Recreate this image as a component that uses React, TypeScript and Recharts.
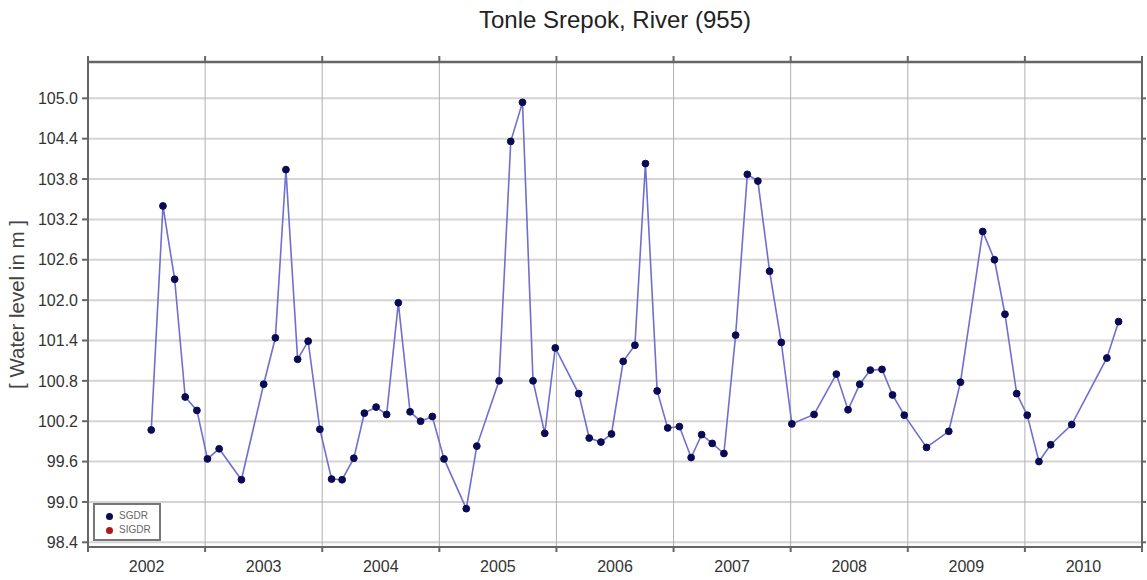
import { LineChart, Line, XAxis, YAxis, CartesianGrid, Label } from 'recharts'

const years = [2002, 2003, 2004, 2005, 2006, 2007, 2008, 2009, 2010, 2011]
const levelTicks = [98.4, 99.0, 99.6, 100.2, 100.8, 101.4, 102.0, 102.6, 103.2, 103.8, 104.4, 105.0]

const times = [
  2002.54, 2002.64, 2002.74, 2002.83, 2002.93,
  2003.02, 2003.12, 2003.31, 2003.5, 2003.6, 2003.69, 2003.79, 2003.88, 2003.98,
  2004.08, 2004.17, 2004.27, 2004.36, 2004.46, 2004.55, 2004.65, 2004.75, 2004.84, 2004.94,
  2005.04, 2005.23, 2005.32, 2005.51, 2005.61, 2005.71, 2005.8, 2005.9, 2005.99,
  2006.19, 2006.28, 2006.38, 2006.47, 2006.57, 2006.67, 2006.76, 2006.86, 2006.95,
  2007.05, 2007.15, 2007.24, 2007.33, 2007.43, 2007.53, 2007.63, 2007.72, 2007.82, 2007.92,
  2008.01, 2008.2, 2008.39, 2008.49, 2008.59, 2008.68, 2008.78, 2008.87, 2008.97,
  2009.16, 2009.35, 2009.45, 2009.64, 2009.74, 2009.83, 2009.93,
  2010.02, 2010.12, 2010.22, 2010.4, 2010.7, 2010.8,
]

const levels = [
  100.07, 103.4, 102.31, 100.56, 100.36,
  99.64, 99.79, 99.33, 100.75, 101.44, 103.94, 101.12, 101.39, 100.08,
  99.34, 99.33, 99.65, 100.32, 100.41, 100.3, 101.96, 100.34, 100.2, 100.27,
  99.64, 98.9, 99.83, 100.8, 104.36, 104.94, 100.8, 100.02, 101.29,
  100.61, 99.95, 99.89, 100.01, 101.09, 101.33, 104.03, 100.65, 100.1,
  100.12, 99.66, 100.0, 99.87, 99.72, 101.48, 103.87, 103.77, 102.43, 101.37,
  100.16, 100.3, 100.9, 100.37, 100.75, 100.96, 100.97, 100.59, 100.29,
  99.81, 100.05, 100.78, 103.02, 102.6, 101.79, 100.61,
  100.29, 99.6, 99.85, 100.15, 101.14, 101.68,
]

const legendNames = ['SGDR', 'SIGDR']
const legendColors = ['#0b0b55', '#b01818']

const data = times.map((t, i) => ({ t, level: levels[i] }))

const FONT = '"Liberation Sans", Arial, Helvetica, sans-serif'
const X_DOMAIN: [number, number] = [2002, 2011]
const Y_DOMAIN: [number, number] = [98.33, 105.54]
const PLOT_LEFT = 88
const PLOT_RIGHT = 1142
// year labels sit in the middle of each year band
const HALF_YEAR = (PLOT_RIGHT - PLOT_LEFT) / (X_DOMAIN[1] - X_DOMAIN[0]) / 2

const YearTick = ({ x, y, payload }: any) => {
  if (payload.value >= X_DOMAIN[1]) return null
  return (
    <text x={x + HALF_YEAR} y={y} dy="0.71em" textAnchor="middle" fill="#333" fontSize={16} fontFamily={FONT}>
      {payload.value}
    </text>
  )
}

const LegendBox = () => (
  <div
    style={{
      position: 'absolute',
      left: 93,
      top: 503,
      width: 68,
      height: 38,
      boxSizing: 'border-box',
      border: '2px solid #777',
      background: '#fff',
      padding: '4px 0 0 11px',
      fontFamily: FONT,
      fontSize: 10,
      color: '#666',
      lineHeight: '14px',
    }}
  >
    {legendNames.map((name, i) => (
      <div key={name} style={{ display: 'flex', alignItems: 'center' }}>
        <span
          style={{
            width: 7,
            height: 7,
            borderRadius: '50%',
            background: legendColors[i],
            display: 'inline-block',
            marginRight: 6,
          }}
        />
        {name}
      </div>
    ))}
  </div>
)

export default function App() {
  return (
    <div style={{ position: 'absolute', left: 0, top: 0, width: 1147, height: 580, background: '#fff' }}>
      <div
        style={{
          position: 'absolute',
          left: PLOT_LEFT,
          width: PLOT_RIGHT - PLOT_LEFT,
          top: 6,
          textAlign: 'center',
          fontFamily: FONT,
          fontSize: 24,
          color: '#222',
        }}
      >
        Tonle Srepok, River (955)
      </div>
      <LineChart width={1147} height={580} data={data} margin={{ top: 56, right: 0, bottom: 0, left: 0 }}>
        <CartesianGrid xAxisId="yr" yAxisId="left" vertical={false} stroke="#d4d4d4" strokeWidth={2} />
        <CartesianGrid xAxisId="yr" yAxisId="left" horizontal={false} stroke="#b0b0b0" strokeWidth={1} />
        <XAxis
          xAxisId="yr"
          dataKey="t"
          type="number"
          domain={X_DOMAIN}
          ticks={years}
          allowDataOverflow
          height={33}
          tickSize={5}
          tickMargin={9}
          tick={<YearTick />}
          axisLine={{ stroke: '#666', strokeWidth: 2 }}
          tickLine={{ stroke: '#666', strokeWidth: 2 }}
        />
        <XAxis
          xAxisId="top"
          orientation="top"
          dataKey="t"
          type="number"
          domain={X_DOMAIN}
          ticks={years}
          allowDataOverflow
          height={6}
          tickSize={6}
          tickFormatter={() => ''}
          axisLine={{ stroke: '#666', strokeWidth: 2.5 }}
          tickLine={{ stroke: '#666', strokeWidth: 2 }}
        />
        <YAxis
          yAxisId="left"
          type="number"
          domain={Y_DOMAIN}
          ticks={levelTicks}
          allowDataOverflow
          width={PLOT_LEFT}
          tickSize={6}
          tickMargin={4}
          tickFormatter={(v: number) => v.toFixed(1)}
          tick={{ fill: '#333', fontSize: 16, fontFamily: FONT }}
          axisLine={{ stroke: '#666', strokeWidth: 2 }}
          tickLine={{ stroke: '#666', strokeWidth: 2 }}
        >
          <Label
            value="[ Water level in m ]"
            angle={-90}
            position="center"
            dx={-27}
            style={{ fontSize: 20.5, fontFamily: FONT, fill: '#444' }}
          />
        </YAxis>
        <YAxis
          yAxisId="right"
          orientation="right"
          type="number"
          domain={Y_DOMAIN}
          ticks={levelTicks}
          allowDataOverflow
          width={5}
          tickSize={4}
          tickFormatter={() => ''}
          axisLine={{ stroke: '#666', strokeWidth: 2 }}
          tickLine={{ stroke: '#666', strokeWidth: 2 }}
        />
        <Line
          xAxisId="yr"
          yAxisId="left"
          dataKey="level"
          name="SGDR"
          type="linear"
          stroke="#6f6fd0"
          strokeWidth={1.6}
          dot={{ r: 3.4, fill: '#0b0b55', stroke: '#0b0b55', strokeWidth: 1 }}
          activeDot={false}
          isAnimationActive={false}
        />
      </LineChart>
      <LegendBox />
    </div>
  )
}
